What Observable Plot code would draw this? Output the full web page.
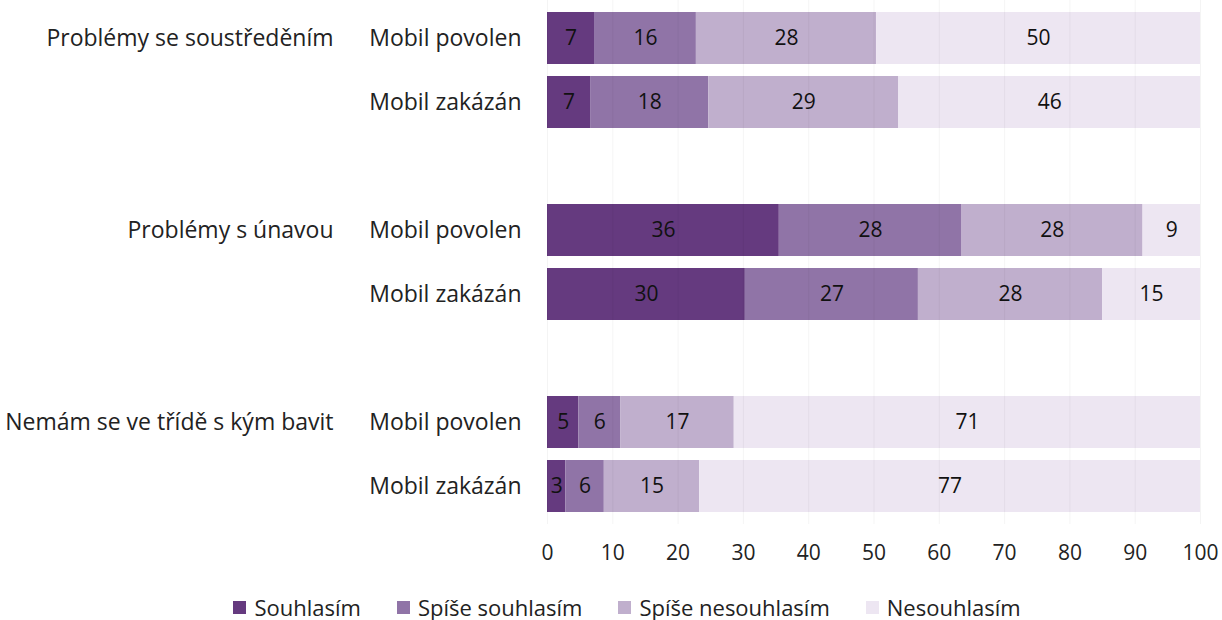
<!DOCTYPE html>
<html>
<head>
<meta charset="utf-8">
<script src="https://cdn.jsdelivr.net/npm/d3@7"></script>
<script src="https://cdn.jsdelivr.net/npm/@observablehq/plot@0.6"></script>
<style>
  body { margin: 0; background: #fff; font-family: "Open Sans", sans-serif; }
  #legend { display: flex; justify-content: center; gap: 36px; font-size: 22px; color: #222; margin-top: 19px; padding-left: 32px; line-height: 26px; }
  #legend .item { display: flex; align-items: center; gap: 8px; }
  #legend .sw { width: 13px; height: 13px; display: inline-block; }
</style>
</head>
<body>
<div id="chart"></div>
<script>
const groups = ["Problémy se soustředěním", "Problémy s únavou", "Nemám se ve třídě s kým bavit"];
const subgroups = ["Mobil povolen", "Mobil zakázán"];
const answers = ["Souhlasím", "Spíše souhlasím", "Spíše nesouhlasím", "Nesouhlasím"];
const colors = ["#653a7f", "#9074a7", "#c0afcd", "#ede6f2"];
// values per bar (group, subgroup) in order of answers, percent
const values = [
  [7.2, 15.6, 27.6, 49.6],
  [6.6, 18.1, 29.1, 46.2],
  [35.5, 27.9, 27.8, 8.8],
  [30.3, 26.5, 28.2, 15.0],
  [4.8, 6.4, 17.4, 71.4],
  [2.8, 5.9, 14.6, 76.7]
];
const xTicks = [0, 10, 20, 30, 40, 50, 60, 70, 80, 90, 100];

// build table
const rows = [];
const yDomain = [];
groups.forEach((g, gi) => {
  subgroups.forEach((s, si) => {
    const key = gi + "|" + si;
    yDomain.push(key);
    const v = values[gi * 2 + si];
    answers.forEach((a, ai) => rows.push({key, group: g, sub: s, answer: a, value: v[ai]}));
  });
  if (gi < groups.length - 1) yDomain.push("gap" + gi);
});
const subLabel = k => k.startsWith("gap") ? "" : subgroups[+k.split("|")[1]];
const groupRows = groups.map((g, gi) => ({key: gi + "|0", group: g}));

const font = '"Open Sans", sans-serif';
const plot = Plot.plot({
  width: 1222,
  height: 575,
  marginLeft: 547,
  marginRight: 22,
  marginTop: 0,
  marginBottom: 51,
  style: {fontFamily: font, fontSize: "20px", color: "#222", background: "#fff"},
  x: {domain: [0, 100], ticks: xTicks, label: null},
  y: {domain: yDomain, range: [0, 524], padding: 0.1875, label: null},
  color: {domain: answers, range: colors},
  marks: [
    Plot.barX(rows, Plot.stackX({x: "value", y: "key", fill: "answer", order: answers})),
    Plot.ruleX(xTicks, {stroke: "#000", strokeOpacity: 0.045}),
    Plot.text(rows, Plot.stackX({x: "value", y: "key", z: "answer", order: answers,
      text: d => Math.round(d.value), fill: "#111", fontSize: 21})),
    Plot.axisY({tickSize: 0, tickPadding: 26, tickFormat: subLabel, fontSize: 23, fill: "#222", label: null}),
    Plot.text(groupRows, {y: "key", text: "group", frameAnchor: "left", dx: -214, textAnchor: "end", fontSize: 23, fill: "#222"}),
    Plot.axisX({tickSize: 0, tickPadding: 21, fontSize: 21, fill: "#222", ticks: xTicks, label: null})
  ]
});
document.getElementById("chart").appendChild(plot);

const legend = document.createElement("div");
legend.id = "legend";
answers.forEach((a, i) => {
  const it = document.createElement("div");
  it.className = "item";
  const sw = document.createElement("span");
  sw.className = "sw";
  sw.style.background = colors[i];
  const t = document.createElement("span");
  t.textContent = a;
  it.appendChild(sw); it.appendChild(t);
  legend.appendChild(it);
});
document.body.appendChild(legend);
</script>
</body>
</html>
